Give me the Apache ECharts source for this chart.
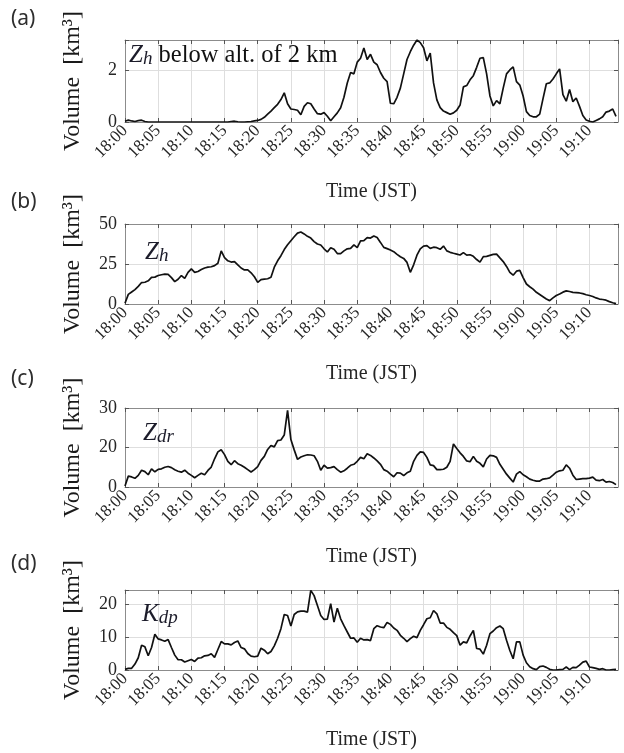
<!DOCTYPE html>
<html>
<head>
<meta charset="utf-8">
<script src="https://cdn.jsdelivr.net/npm/echarts@6/dist/echarts.min.js"></script>
<style>
html, body { margin: 0; background: #fff; }
#container { width: 624px; height: 753px; }
</style>
</head>
<body>
<div id="container"></div>
<script>
// minutes after 18:00 JST
const minutes = [
  0, 0.5, 1, 1.5, 2, 2.5, 3, 3.5, 4, 4.5,
  5, 5.5, 6, 6.5, 7, 7.5, 8, 8.5, 9, 9.5,
  10, 10.5, 11, 11.5, 12, 12.5, 13, 13.5, 14, 14.5,
  15, 15.5, 16, 16.5, 17, 17.5, 18, 18.5, 19, 19.5,
  20, 20.5, 21, 21.5, 22, 22.5, 23, 23.5, 24, 24.5,
  25, 25.5, 26, 26.5, 27, 27.5, 28, 28.5, 29, 29.5,
  30, 30.5, 31, 31.5, 32, 32.5, 33, 33.5, 34, 34.5,
  35, 35.5, 36, 36.5, 37, 37.5, 38, 38.5, 39, 39.5,
  40, 40.5, 41, 41.5, 42, 42.5, 43, 43.5, 44, 44.5,
  45, 45.5, 46, 46.5, 47, 47.5, 48, 48.5, 49, 49.5,
  50, 50.5, 51, 51.5, 52, 52.5, 53, 53.5, 54, 54.5,
  55, 55.5, 56, 56.5, 57, 57.5, 58, 58.5, 59, 59.5,
  60, 60.5, 61, 61.5, 62, 62.5, 63, 63.5, 64, 64.5,
  65, 65.5, 66, 66.5, 67, 67.5, 68, 68.5, 69, 69.5,
  70, 70.5, 71, 71.5, 72, 72.5, 73, 73.5, 74
];

// (a) Zh below 2 km
const zhLow = [
  0.03, 0.07, 0.04, 0.02, 0.05, 0.07, 0.02, 0, 0, 0,
  0, 0, 0, 0, 0, 0, 0, 0, 0, 0,
  0, 0, 0, 0, 0, 0, 0, 0, 0, 0,
  0, 0, 0.02, 0.03, 0.01, 0, 0, 0.01, 0.02, 0.04,
  0.06, 0.1, 0.18, 0.3, 0.42, 0.55, 0.68, 0.86, 1.12, 0.7,
  0.5, 0.48, 0.45, 0.28, 0.6, 0.74, 0.7, 0.5, 0.32, 0.3,
  0.36, 0.22, 0.05, 0.2, 0.35, 0.55, 0.95, 1.5, 1.9, 1.85,
  2.3, 2.45, 2.84, 2.4, 2.6, 2.3, 2.2, 1.9, 1.68, 1.55,
  0.72, 0.7, 0.95, 1.3, 1.85, 2.4, 2.7, 2.95, 3.15, 3.05,
  2.85, 2.35, 2.65, 1.5, 0.85, 0.55, 0.42, 0.36, 0.3, 0.35,
  0.45, 0.65, 1.35, 1.4, 1.62, 1.78, 2.1, 2.45, 2.47, 1.85,
  1.0, 0.62, 0.82, 0.7, 1.3, 1.85, 2.0, 2.12, 1.55, 1.42,
  1.0, 0.4, 0.25, 0.2, 0.2, 0.3, 0.9, 1.47, 1.5, 1.65,
  1.85, 2.04, 1.05, 0.8, 1.25, 0.78, 0.92, 0.6, 0.25, 0.08,
  0.03, 0, 0.06, 0.12, 0.2, 0.38, 0.42, 0.5, 0.22
];

// (b) Zh
const zh = [
  0.5, 6, 7.5, 9, 11, 13.4, 13.6, 14.5, 16.6, 16.8,
  17.8, 18.3, 18.7, 18.5, 16.5, 14, 15.5, 17.8, 16, 19.8,
  21.9, 19.8, 20.3, 21.5, 22.5, 23, 23.3, 24, 25.5, 33.2,
  29, 27, 26.2, 26.5, 24.5, 22.5, 21.3, 21.3, 19.5, 17,
  13.5, 15.2, 15.5, 15.8, 16.7, 23, 27, 30.2, 34, 37,
  39.5, 42, 44.3, 45, 43.8, 42.3, 41.2, 39, 37.5, 36.9,
  34.5, 32.5, 35.2, 34.2, 31.5, 31.5, 33.2, 34.5, 34.8, 36.9,
  35.2, 39.4, 39.6, 41.5, 41.2, 42.5, 41.5, 38.5, 35.4, 34.6,
  33.7, 32.7, 31, 29.5, 28.5, 26, 19.8, 24.5, 30.5, 34.5,
  36.2, 36.5, 34.8, 35.5, 35.2, 34.2, 36.2, 33.2, 32.3, 31.7,
  31.2, 30.6, 32.1, 30.5, 30.8, 29.8, 27.8, 26.2, 29.6, 29.8,
  30.4, 31, 31.2, 28.8, 26.5, 23.5, 19.8, 18, 20.5, 21,
  16.5, 12.5, 10.8, 9.3, 7.3, 5.9, 4.5, 3.1, 2.1, 3.8,
  5.3, 6.2, 7.4, 8.2, 7.8, 7.3, 7.1, 6.9, 6.5, 5.8,
  5.3, 4.7, 3.8, 3.1, 2.8, 2.4, 1.5, 0.8, 0.2
];

// (c) Zdr (plotted against the panel's own grid: 20 sits mid-height)
const zdr = [
  0.5, 5.5, 5.1, 4.4, 5.9, 8.5, 7.8, 6.2, 9.2, 7.7,
  8.9, 9.2, 10, 10.4, 9.8, 8.7, 8, 7.5, 8.5, 7,
  5.9, 4.7, 5.9, 7, 6.2, 8.4, 10.1, 14.3, 17.8, 18.9,
  16.4, 13, 11.3, 13.3, 11.8, 11, 10, 8.8, 7.6, 8.8,
  10.3, 13.5, 15.5, 19, 21, 20.3, 23.5, 23.8, 26.3, 38.8,
  24, 18.8, 14, 15.2, 15.8, 16.3, 16.2, 15.8, 13, 8.5,
  11, 9.6, 9.8, 10.3, 8.8, 7.5, 8.2, 9.5, 11, 11.5,
  13, 15, 14.3, 16.8, 16, 14.7, 13.2, 11.5, 8.8, 8,
  6.5, 5.2, 7.2, 7, 5.8, 7.2, 8, 13, 16, 17.8,
  17.5, 15, 11.2, 10.8, 8.8, 8.8, 9, 10, 13, 21.8,
  19.5, 17.3, 15.5, 13.2, 12.8, 15.5, 13, 12, 10.2, 14.2,
  16, 15.8, 15, 11.5, 9, 6.5, 4.5, 2.5, 6.5, 7.8,
  6.2, 5.2, 4, 3.4, 3, 3, 4, 4.2, 4.6, 6,
  7.5, 8.2, 8.5, 11.2, 9.5, 6, 3.8, 4, 4.2, 4.2,
  4.5, 5, 3.5, 3.2, 3.8, 2.5, 2.8, 2.3, 1.2
];

// (d) Kdp
const kdp = [
  0.2, 0.5, 0.5, 1.8, 3.7, 7.5, 7, 4.3, 6.8, 10.8,
  9.4, 9.1, 8.7, 9.2, 6.8, 4.5, 3.1, 3.1, 2.4, 2.8,
  3.2, 2.6, 3.6, 3.7, 4.3, 4.4, 4.9, 3.8, 6.2, 8.6,
  7.9, 7.9, 7.6, 8.3, 8.8, 6.8, 6.4, 5, 4.2, 4,
  4.2, 6.6, 6, 4.9, 5.6, 7.3, 9.6, 12.5, 16.8, 16.5,
  13.3, 16.8, 17.6, 17.8, 17.8, 17.5, 24.1, 22.5, 19.5, 16.5,
  15.3, 15.4, 20.1, 14.5, 18.7, 15.5, 13.4, 11.5, 9.6, 9.7,
  8.4, 9.6, 9.1, 9.2, 8.9, 12.5, 13.4, 13, 12.8, 14.4,
  13.8, 12.7, 12, 10.5, 9.6, 8.6, 9.5, 10.2, 9.8, 12,
  13.7, 15.5, 15.8, 18, 17, 14.2, 14.2, 12.9, 12.3, 11.3,
  10.4, 7.5, 8.5, 8.2, 10.3, 12, 6.5, 6.3, 4.8, 7.5,
  11, 11.8, 12.8, 13.3, 12.5, 9, 5.9, 3.4, 8.5, 8.5,
  4.5, 2.2, 1, 0.4, 0.1, 1, 1.2, 0.8, 0.2, 0,
  0, 0.1, 0.2, 0.9, 0.1, 0.8, 0.7, 1.5, 2.4, 2.7,
  0.9, 0.7, 0.5, 0.2, 0.4, 0, 0, 0.1, 0.2
];

const timeLabels = ['18:00', '18:05', '18:10', '18:15', '18:20', '18:25', '18:30',
  '18:35', '18:40', '18:45', '18:50', '18:55', '19:00', '19:05', '19:10'];

const yLabelsA = ['0', '2'];
const yLabelsB = ['0', '25', '50'];
const yLabelsC = ['0', '20', '30'];
const yLabelsD = ['0', '10', '20'];

const serif = 'Liberation Serif';
const textColor = '#262626';

const panels = [
  { tag: '(a)', data: zhLow, labels: yLabelsA, max: 3.15, step: 2, top: 40, height: 82, tagTop: 9,
    note: '{z|Z}{s|h}{t| below alt. of 2 km}', noteLeft: 129, noteTop: 43 },
  { tag: '(b)', data: zh, labels: yLabelsB, max: 50, step: 25, top: 224, height: 80, tagTop: 192,
    note: '{z|Z}{s|h}', noteLeft: 145, noteTop: 240 },
  { tag: '(c)', data: zdr, labels: yLabelsC, max: 40, step: 20, top: 408, height: 79, tagTop: 369,
    note: '{z|Z}{s|dr}', noteLeft: 143, noteTop: 421 },
  { tag: '(d)', data: kdp, labels: yLabelsD, max: 24.2, step: 10, top: 590, height: 80, tagTop: 554,
    note: '{z|K}{s|dp}', noteLeft: 142, noteTop: 602 }
];

const xMax = 74.3;
const gridLeft = 125;
const gridRight = 6;

let dom = document.getElementById('container');
let myChart = echarts.init(dom);

let grids = [], xAxes = [], yAxes = [], series = [], graphics = [];

const boxLine = { show: true, onZero: false, lineStyle: { color: '#8c8c8c', width: 1 } };
const tickStyle = { inside: true, length: 4, lineStyle: { color: '#555', width: 1 } };

panels.forEach((p, i) => {
  grids.push({
    left: gridLeft, right: gridRight, top: p.top, height: p.height,
    show: false, containLabel: false
  });
  // bottom time axis
  xAxes.push({
    type: 'value', gridIndex: i, min: 0, max: xMax, interval: 5,
    name: 'Time (JST)', nameLocation: 'middle', nameGap: 60,
    nameTextStyle: { fontFamily: serif, fontSize: 20, color: textColor },
    axisLine: boxLine,
    axisTick: tickStyle,
    axisLabel: {
      rotate: 45, margin: 6, fontFamily: serif, fontSize: 17, color: textColor,
      showMaxLabel: false,
      formatter: function (v) {
        let k = v / 5;
        if (Math.abs(k - Math.round(k)) > 1e-6) return '';
        return timeLabels[Math.round(k)] || '';
      }
    },
    splitLine: { show: true, lineStyle: { color: '#dedede', width: 1 } }
  });
  // top edge of the box
  xAxes.push({
    type: 'value', gridIndex: i, position: 'top', min: 0, max: xMax, interval: 5,
    axisLine: boxLine, axisTick: tickStyle, axisLabel: { show: false },
    splitLine: { show: false }
  });
  yAxes.push({
    type: 'value', gridIndex: i, min: 0, max: p.max, interval: p.step,
    name: 'Volume  [km³]', nameLocation: 'middle', nameGap: 40, nameRotate: 90,
    nameTextStyle: { fontFamily: serif, fontSize: 24, color: '#1a1a1a' },
    axisLine: boxLine,
    axisTick: tickStyle,
    axisLabel: {
      margin: 8, fontFamily: serif, fontSize: 18, color: textColor,
      formatter: function (v) {
        let k = v / p.step;
        if (Math.abs(k - Math.round(k)) > 1e-6) return '';
        return p.labels[Math.round(k)] || '';
      }
    },
    splitLine: { show: true, lineStyle: { color: '#dedede', width: 1 } }
  });
  // right edge of the box
  yAxes.push({
    type: 'value', gridIndex: i, position: 'right', min: 0, max: p.max, interval: p.step,
    axisLine: boxLine, axisTick: tickStyle, axisLabel: { show: false },
    splitLine: { show: false }
  });
  series.push({
    type: 'line',
    xAxisIndex: i * 2, yAxisIndex: i * 2,
    data: minutes.map((m, k) => [m, p.data[k]]),
    showSymbol: false,
    lineStyle: { color: '#111', width: 1.7 },
    z: 5
  });
  graphics.push({
    type: 'text', left: 11, top: p.tagTop,
    style: { text: p.tag, font: '21px "Noto Sans"', fill: '#2e2e2e' }
  });
  graphics.push({
    type: 'text', left: p.noteLeft, top: p.noteTop, z: 10,
    style: {
      text: p.note,
      rich: {
        z: { fontFamily: serif, fontStyle: 'italic', fontSize: 25, lineHeight: 28, fill: '#1c1c2a', verticalAlign: 'bottom' },
        s: { fontFamily: serif, fontStyle: 'italic', fontSize: 19, lineHeight: 21, fill: '#1c1c2a', verticalAlign: 'bottom' },
        t: { fontFamily: serif, fontSize: 24.5, lineHeight: 28, fill: '#111', verticalAlign: 'bottom' }
      }
    }
  });
});

let option = {
  animation: false,
  backgroundColor: '#fff',
  grid: grids,
  xAxis: xAxes,
  yAxis: yAxes,
  series: series,
  graphic: graphics
};

myChart.setOption(option, true);
</script>
</body>
</html>
